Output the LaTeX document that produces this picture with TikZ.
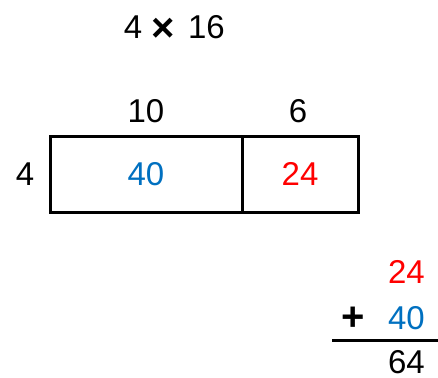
\documentclass[tikz,border=0pt]{standalone}
\usepackage{fontspec}
\setmainfont{Liberation Sans}
\definecolor{myblue}{HTML}{0070C0}
\definecolor{myred}{HTML}{FF0000}
\begin{document}
\begin{tikzpicture}[x=1bp,y=-1bp,
  lbl/.style={inner sep=0pt,font=\fontsize{33bp}{38bp}\selectfont},
  sym/.style={inner sep=0pt,font=\fontsize{40bp}{44bp}\selectfont\bfseries},
  cell/.style={draw=black,line width=3bp,inner sep=0pt}]
\useasboundingbox (0,0) rectangle (438,377);
\node[lbl] (t4) at (133,27.5) {4};
\node[sym] (times) at (163.5,30) {×};
\node[lbl] (t16) at (206.5,27.5) {16};
\node[lbl] (ten) at (146,111) {10};
\node[lbl] (six) at (298,111) {6};
\node[lbl] (four) at (25,174) {4};
\node[cell,minimum width=192bp,minimum height=76bp] (left) at (146,174) {};
\node[cell,minimum width=116bp,minimum height=76bp] (right) at (300,174) {};
\node[lbl,text=myblue] (forty) at (left.center) {40};
\node[lbl,text=myred] (tf) at (right.center) {24};
\node[lbl,text=myred,anchor=east] (a1) at (425,272) {24};
\node[lbl,text=myblue,anchor=east] (a2) at (425,318) {40};
\node[sym] (plus) at (353,319) {+};
\coordinate (l1) at (332,340);
\coordinate (l2) at (438,340);
\draw[line width=3bp] (l1) -- (l2);
\node[lbl,anchor=east] (sum) at (425,362.5) {64};
\end{tikzpicture}
\end{document}
